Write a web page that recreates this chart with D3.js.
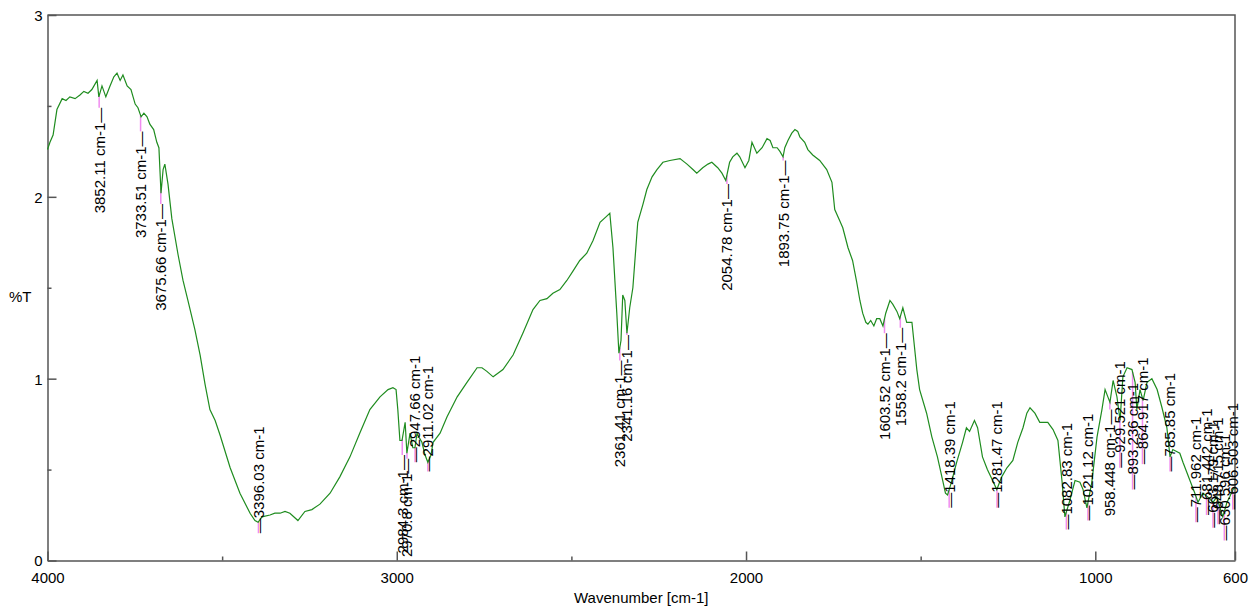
<!DOCTYPE html>
<html>
<head>
<meta charset="utf-8">
<title>IR spectrum</title>
<script src="https://d3js.org/d3.v7.min.js"></script>
<style>
  body { margin: 0; background: #ffffff; }
  svg { display: block; font-family: "Liberation Sans", Arial, sans-serif; }
  .axis text { font-size: 15px; fill: #000; }
  .axis path, .axis line { stroke: #555; stroke-width: 1.5; }
</style>
</head>
<body>
<div id="chart"></div>
<script>
// Spectrum trace (wavenumber in cm-1, %T)
const wavenumbers = [
  4000, 3993, 3984, 3973, 3958, 3947, 3936, 3921, 3907, 3896, 3884, 3873, 3858, 3853, 3844, 3833,
  3821, 3810, 3801, 3792, 3784, 3772, 3761, 3749, 3741, 3732, 3724, 3715, 3707, 3696, 3687, 3681,
  3675, 3669, 3664, 3655, 3644, 3626, 3612, 3598, 3578, 3563, 3549, 3535, 3520, 3506, 3477, 3449,
  3420, 3406, 3397, 3386, 3363, 3349, 3334, 3320, 3306, 3283, 3263, 3243, 3220, 3191, 3163, 3134,
  3106, 3077, 3048, 3025, 3011, 3002, 2997, 2991, 2985, 2976, 2971, 2962, 2954, 2948, 2942, 2934,
  2928, 2919, 2911, 2902, 2896, 2876, 2856, 2827, 2799, 2770, 2756, 2742, 2724, 2696, 2667, 2639,
  2610, 2590, 2570, 2553, 2533, 2513, 2496, 2476, 2456, 2438, 2418, 2401, 2390, 2381, 2370, 2364,
  2358, 2353, 2347, 2341, 2333, 2324, 2310, 2295, 2284, 2269, 2255, 2238, 2218, 2189, 2169, 2152,
  2141, 2124, 2109, 2098, 2081, 2069, 2058, 2047, 2038, 2026, 2018, 2003, 1992, 1983, 1969, 1954,
  1940, 1931, 1923, 1911, 1903, 1894, 1889, 1880, 1869, 1860, 1852, 1846, 1832, 1823, 1809, 1789,
  1769, 1754, 1746, 1732, 1723, 1708, 1695, 1683, 1674, 1666, 1657, 1651, 1643, 1634, 1626, 1617,
  1608, 1600, 1588, 1580, 1568, 1560, 1551, 1540, 1525, 1511, 1503, 1483, 1468, 1452, 1437, 1429,
  1423, 1412, 1397, 1380, 1369, 1360, 1346, 1337, 1323, 1309, 1294, 1282, 1268, 1253, 1236, 1222,
  1207, 1196, 1187, 1173, 1159, 1136, 1121, 1107, 1095, 1087, 1073, 1058, 1044, 1035, 1024, 1010,
  995, 981, 972, 964, 958, 949, 938, 929, 921, 909, 895, 886, 881, 872, 863, 852,
  838, 823, 809, 795, 786, 778, 758, 749, 729, 715, 706, 692, 678, 663, 652, 643,
  635, 623, 615, 606, 600
];
const transmittance = [
  2.26, 2.30, 2.34, 2.48, 2.54, 2.53, 2.55, 2.54, 2.56, 2.58, 2.57, 2.59, 2.64, 2.55, 2.61, 2.55,
  2.61, 2.66, 2.68, 2.64, 2.67, 2.61, 2.59, 2.51, 2.49, 2.44, 2.46, 2.44, 2.40, 2.37, 2.30, 2.27,
  2.02, 2.15, 2.18, 2.07, 1.88, 1.68, 1.54, 1.43, 1.27, 1.13, 0.97, 0.83, 0.77, 0.69, 0.51, 0.37,
  0.26, 0.22, 0.21, 0.24, 0.25, 0.26, 0.26, 0.27, 0.26, 0.22, 0.27, 0.28, 0.31, 0.37, 0.46, 0.57,
  0.70, 0.83, 0.90, 0.94, 0.95, 0.94, 0.83, 0.66, 0.66, 0.76, 0.59, 0.70, 0.62, 0.62, 0.70, 0.67,
  0.65, 0.58, 0.54, 0.58, 0.65, 0.70, 0.79, 0.90, 0.98, 1.06, 1.06, 1.04, 1.01, 1.05, 1.13, 1.25,
  1.38, 1.43, 1.44, 1.47, 1.49, 1.54, 1.59, 1.65, 1.69, 1.76, 1.86, 1.89, 1.91, 1.72, 1.36, 1.14,
  1.21, 1.46, 1.43, 1.25, 1.39, 1.50, 1.86, 1.96, 2.04, 2.11, 2.15, 2.19, 2.20, 2.21, 2.18, 2.15,
  2.13, 2.16, 2.18, 2.19, 2.16, 2.13, 2.09, 2.19, 2.22, 2.24, 2.22, 2.16, 2.20, 2.30, 2.24, 2.27,
  2.32, 2.31, 2.27, 2.27, 2.25, 2.22, 2.27, 2.31, 2.35, 2.37, 2.36, 2.33, 2.30, 2.26, 2.23, 2.20,
  2.15, 2.08, 1.93, 1.87, 1.83, 1.72, 1.65, 1.53, 1.43, 1.36, 1.31, 1.30, 1.32, 1.29, 1.33, 1.33,
  1.29, 1.36, 1.43, 1.41, 1.37, 1.33, 1.39, 1.31, 1.31, 1.05, 0.94, 0.81, 0.68, 0.57, 0.44, 0.37,
  0.36, 0.43, 0.54, 0.65, 0.73, 0.71, 0.77, 0.73, 0.57, 0.50, 0.44, 0.39, 0.46, 0.51, 0.55, 0.65,
  0.73, 0.81, 0.84, 0.81, 0.76, 0.76, 0.72, 0.66, 0.43, 0.24, 0.33, 0.44, 0.43, 0.39, 0.29, 0.43,
  0.68, 0.83, 0.94, 0.90, 0.87, 0.99, 0.90, 0.77, 1.01, 1.06, 1.05, 0.98, 0.83, 0.94, 0.88, 0.98,
  1.00, 0.94, 0.84, 0.73, 0.57, 0.61, 0.59, 0.54, 0.44, 0.37, 0.32, 0.37, 0.35, 0.32, 0.35, 0.29,
  0.24, 0.32, 0.35, 0.39, 0.40
];

// Picked peaks: wavenumber, marker value and which side the label sits on
const peakWavenumbers = [
  3852.11, 3733.51, 3675.66, 3396.03, 2984.3, 2970.8, 2947.66, 2911.02, 2361.41, 2341.16,
  2054.78, 1893.75, 1603.52, 1558.2, 1418.39, 1281.47, 1082.83, 1021.12, 958.448, 929.521,
  893.236, 864.917, 785.85, 711.962, 681.442, 663.179, 648.715, 630.596, 606.503
];
const peakValues = [
  2.49, 2.36, 1.96, 0.15, 0.58, 0.56, 0.54, 0.49, 1.10, 1.24,
  2.07, 2.20, 1.25, 1.28, 0.29, 0.29, 0.17, 0.22, 0.83, 0.51,
  0.39, 0.53, 0.49, 0.21, 0.25, 0.18, 0.20, 0.11, 0.28
];
const peakSides = [
  'below', 'below', 'below', 'above', 'below', 'below', 'above', 'above', 'below', 'below',
  'below', 'below', 'below', 'below', 'above', 'above', 'above', 'above', 'below', 'above',
  'above', 'above', 'above', 'above', 'above', 'above', 'above', 'above', 'above'
];

const xMajorTicks = [4000, 3000, 2000, 1000, 600];
const xMinorTicks = [3500, 2500, 1500];
const yMajorTicks = [0, 1, 2, 3];
const yMinorTicks = [0.5, 1.5, 2.5];

const width = 1251;
const height = 607;
const margin = { top: 15, right: 16, bottom: 46.5, left: 47.5 };

const svg = d3.select('#chart')
    .append('svg')
    .attr('width', width)
    .attr('height', height)
    .style('background', '#ffffff');

const x = d3.scaleLinear()
    .domain([4000, 600])
    .range([margin.left, width - margin.right]);
const y = d3.scaleLinear()
    .domain([0, 3])
    .range([height - margin.bottom, margin.top]);

// Frame (top and right)
svg.append('path')
    .attr('d', `M${x(4000)},${y(3)}H${x(600)}V${y(0)}`)
    .attr('fill', 'none')
    .attr('stroke', '#555')
    .attr('stroke-width', 1.5);

// Axes, ticks pointing inward
svg.append('g')
    .attr('class', 'axis')
    .attr('transform', `translate(0,${y(0)})`)
    .call(d3.axisBottom(x).tickValues(xMajorTicks).tickSize(-9).tickSizeOuter(0).tickPadding(12).tickFormat(d3.format('d')));
svg.append('g')
    .attr('class', 'axis')
    .attr('transform', `translate(0,${y(0)})`)
    .call(d3.axisBottom(x).tickValues(xMinorTicks).tickSize(-4).tickSizeOuter(0).tickFormat(''))
    .select('.domain').remove();

svg.append('g')
    .attr('class', 'axis')
    .attr('transform', `translate(${x(4000)},0)`)
    .call(d3.axisLeft(y).tickValues(yMajorTicks).tickSize(-9).tickSizeOuter(0).tickPadding(5).tickFormat(d3.format('d')))
    .selectAll('.tick text').attr('dy', '0.36em');
svg.append('g')
    .attr('class', 'axis')
    .attr('transform', `translate(${x(4000)},0)`)
    .call(d3.axisLeft(y).tickValues(yMinorTicks).tickSize(-4).tickSizeOuter(0).tickFormat(''))
    .select('.domain').remove();

// Axis titles
svg.append('text')
    .attr('x', (x(4000) + x(600)) / 2)
    .attr('y', 603)
    .attr('text-anchor', 'middle')
    .style('font-size', '15px')
    .text('Wavenumber [cm-1]');
svg.append('text')
    .attr('x', 9)
    .attr('y', 302)
    .style('font-size', '15px')
    .text('%T');

// Spectrum
const points = wavenumbers.map((w, i) => [w, transmittance[i]]);
const line = d3.line()
    .x(d => x(d[0]))
    .y(d => y(d[1]));

// value of the trace at a wavenumber (linear between read points)
function traceAt(w) {
    for (let i = 0; i < wavenumbers.length - 1; i++) {
        const a = wavenumbers[i], b = wavenumbers[i + 1];
        if (w <= a && w >= b) {
            const t = (a - w) / (a - b);
            return transmittance[i] + t * (transmittance[i + 1] - transmittance[i]);
        }
    }
    return transmittance[transmittance.length - 1];
}

const peaks = peakWavenumbers.map((w, i) => ({
    w: w,
    v: peakValues[i],
    side: peakSides[i],
    trace: traceAt(w)
}));

// pink markers from trace down to the picked point
svg.append('g')
    .selectAll('line')
    .data(peaks)
    .join('line')
    .attr('x1', d => x(d.w))
    .attr('x2', d => x(d.w))
    .attr('y1', d => y(d.trace))
    .attr('y2', d => y(d.v))
    .attr('stroke', '#f08cf0')
    .attr('stroke-width', 1.5);

svg.append('path')
    .datum(points)
    .attr('d', line)
    .attr('fill', 'none')
    .attr('stroke', '#1f8c1f')
    .attr('stroke-width', 1.2);

// peak labels, rotated, with the dash acting as the marker stroke
svg.append('g')
    .selectAll('text')
    .data(peaks)
    .join('text')
    .attr('transform', d => `translate(${x(d.w)},${y(d.v)}) rotate(-90)`)
    .attr('dy', '0.36em')
    .attr('text-anchor', d => d.side === 'below' ? 'end' : 'start')
    .style('font-size', '15px')
    .style('fill', '#000')
    .text(d => d.side === 'below' ? `${d.w} cm-1\u2014` : `\u2014${d.w} cm-1`);
</script>
</body>
</html>
